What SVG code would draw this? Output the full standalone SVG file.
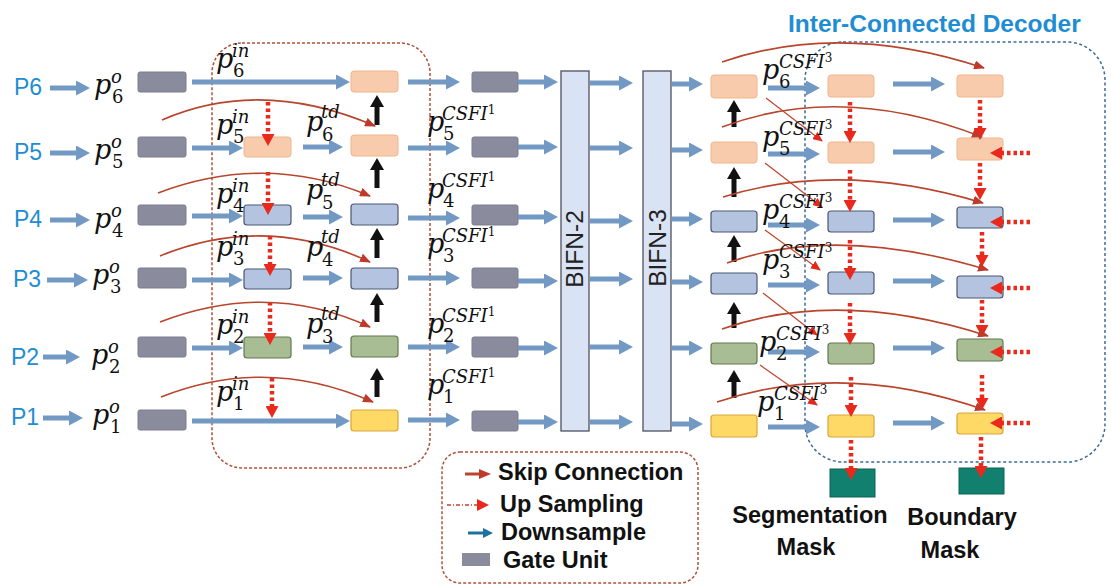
<svg xmlns="http://www.w3.org/2000/svg" width="1111" height="586" viewBox="0 0 1111 586">
  <defs>
    <style>
      .gate{fill:#8A8C9E;stroke:#7B7D8F;stroke-width:1}
      .or{fill:#F8CBAD;stroke:#F0B68C;stroke-width:1}
      .bl{fill:#B4C4E0;stroke:#4B5872;stroke-width:1.2}
      .gr{fill:#A9BD94;stroke:#62794E;stroke-width:1.2}
      .ye{fill:#FFD966;stroke:#D9A63A;stroke-width:1.2}
      .mask{fill:#11806F;stroke:#0C6457;stroke-width:1}
      .bar{fill:#DAE3F3;stroke:#4D5260;stroke-width:1.3}
      .ba{stroke:#7199C4;stroke-width:5;fill:none;marker-end:url(#hb)}
      .up{stroke:#111;stroke-width:5;fill:none;marker-end:url(#hk)}
      .dn{stroke:#E8291C;stroke-width:4.5;stroke-dasharray:3.5 3;fill:none;marker-end:url(#hr)}
      .sk{stroke:#B8452C;stroke-width:1.6;fill:none;marker-end:url(#hs)}
      .dg{stroke:#C0452C;stroke-width:1.2;fill:none;marker-end:url(#hd)}
      .frame{fill:none;stroke:#B0503A;stroke-width:1.5;stroke-dasharray:3 2}
      .frameB{fill:none;stroke:#3D6A9A;stroke-width:1.5;stroke-dasharray:3 2.5}
      .lvl{font-family:"Liberation Sans",Arial,sans-serif;font-size:23px;fill:#1F8DD3}
      .m{font-family:"DejaVu Serif",serif;font-style:italic;font-size:27px;fill:#111}
      .sp{font-size:18px}
      .sb{font-size:18px;font-style:normal}
      .s2{font-size:12px;font-style:normal}
      .lg{font-family:"Liberation Sans",Arial,sans-serif;font-weight:bold;font-size:23.5px;fill:#111}
      .bif{font-family:"Liberation Sans",Arial,sans-serif;font-size:24.5px;fill:#222}
    </style>
    <marker id="hb" markerUnits="userSpaceOnUse" viewBox="0 0 14 15" markerWidth="14" markerHeight="15" refX="2" refY="7.5" orient="auto">
      <path d="M0,0 L14,7.5 L0,15 z" fill="#7199C4"/>
    </marker>
    <marker id="hk" markerUnits="userSpaceOnUse" viewBox="0 0 12 14" markerWidth="12" markerHeight="14" refX="2" refY="7" orient="auto">
      <path d="M0,0 L12,7 L0,14 z" fill="#111"/>
    </marker>
    <marker id="hr" markerUnits="userSpaceOnUse" viewBox="0 0 12 13" markerWidth="12" markerHeight="13" refX="1" refY="6.5" orient="auto">
      <path d="M0,0 L12,6.5 L0,13 z" fill="#E8291C"/>
    </marker>
    <marker id="hs" markerUnits="userSpaceOnUse" viewBox="0 0 11 9" markerWidth="11" markerHeight="9" refX="10" refY="4.5" orient="auto">
      <path d="M0,0 L11,4.5 L0,9 z" fill="#C0392B"/>
    </marker>
    <marker id="hd" markerUnits="userSpaceOnUse" viewBox="0 0 10 9" markerWidth="10" markerHeight="9" refX="9" refY="4.5" orient="auto">
      <path d="M0,0 L10,4.5 L0,9 z" fill="#E02A1C"/>
    </marker>
    <marker id="hlb" markerUnits="userSpaceOnUse" viewBox="0 0 10 10" markerWidth="10" markerHeight="10" refX="1" refY="5" orient="auto">
      <path d="M0,0 L10,5 L0,10 z" fill="#1F6F9F"/>
    </marker>
  </defs>

  <rect width="1111" height="586" fill="#fff"/>

  <!-- encoder frame and decoder frame -->
  <rect class="frame" x="212" y="43" width="218" height="425" rx="30"/>
  <rect class="frameB" x="805" y="42" width="300" height="420" rx="38"/>
  <text x="788" y="32" font-family="Liberation Sans, Arial, sans-serif" font-weight="bold" font-size="24.5" fill="#1F8DD3">Inter-Connected Decoder</text>

  <!-- pyramid level inputs -->
  <g id="levels">
    <text class="lvl" x="14" y="95">P6</text>
    <text class="lvl" x="14" y="160">P5</text>
    <text class="lvl" x="14" y="227">P4</text>
    <text class="lvl" x="13" y="287">P3</text>
    <text class="lvl" x="11" y="365">P2</text>
    <text class="lvl" x="11" y="425">P1</text>
  </g>

  <!-- input gate units -->
  <g id="gates-in">
    <rect class="gate" x="138" y="72" width="48" height="20" rx="2"/>
    <rect class="gate" x="138" y="137" width="48" height="20" rx="2"/>
    <rect class="gate" x="138" y="205" width="48" height="20" rx="2"/>
    <rect class="gate" x="138" y="268" width="48" height="20" rx="2"/>
    <rect class="gate" x="138" y="337" width="48" height="20" rx="2"/>
    <rect class="gate" x="138" y="410" width="48" height="20" rx="2"/>
  </g>

  <!-- top-down path nodes -->
  <g id="td-nodes">
    <rect class="or" x="244" y="137" width="47" height="20" rx="3"/>
    <rect class="bl" x="244" y="205" width="47" height="20" rx="3"/>
    <rect class="bl" x="244" y="269" width="47" height="20" rx="3"/>
    <rect class="gr" x="244" y="337" width="47" height="21" rx="3"/>
  </g>

  <!-- bottom-up path nodes -->
  <g id="bu-nodes">
    <rect class="or" x="351" y="71" width="47" height="21" rx="3"/>
    <rect class="or" x="351" y="135" width="47" height="21" rx="3"/>
    <rect class="bl" x="351" y="204" width="47" height="21" rx="3"/>
    <rect class="bl" x="351" y="268" width="47" height="21" rx="3"/>
    <rect class="gr" x="351" y="336" width="47" height="21" rx="3"/>
    <rect class="ye" x="351" y="410" width="47" height="21" rx="3"/>
  </g>

  <!-- second gate units -->
  <g id="gates-mid">
    <rect class="gate" x="472" y="72" width="46" height="20" rx="2"/>
    <rect class="gate" x="472" y="137" width="46" height="20" rx="2"/>
    <rect class="gate" x="472" y="205" width="46" height="20" rx="2"/>
    <rect class="gate" x="472" y="268" width="46" height="20" rx="2"/>
    <rect class="gate" x="472" y="337" width="46" height="20" rx="2"/>
    <rect class="gate" x="472" y="411" width="46" height="20" rx="2"/>
  </g>

  <!-- BiFPN stages -->
  <g id="bifn2">
    <rect class="bar" x="561" y="71" width="28" height="360"/>
    <text class="bif" transform="translate(583,249) rotate(-90)" text-anchor="middle">BIFN-2</text>
  </g>
  <g id="bifn3">
    <rect class="bar" x="643" y="71" width="28" height="360"/>
    <text class="bif" transform="translate(666,248) rotate(-90)" text-anchor="middle">BIFN-3</text>
  </g>

  <!-- decoder column A -->
  <g id="dec-a">
    <rect class="or" x="711" y="75" width="46" height="23" rx="3"/>
    <rect class="or" x="711" y="142" width="46" height="21" rx="3"/>
    <rect class="bl" x="711" y="211" width="46" height="21" rx="3"/>
    <rect class="bl" x="711" y="273" width="46" height="21" rx="3"/>
    <rect class="gr" x="711" y="343" width="46" height="21" rx="3"/>
    <rect class="ye" x="711" y="415" width="46" height="22" rx="3"/>
  </g>
  <!-- decoder column B (segmentation branch) -->
  <g id="dec-b">
    <rect class="or" x="828" y="75" width="46" height="22" rx="3"/>
    <rect class="or" x="828" y="142" width="46" height="21" rx="3"/>
    <rect class="bl" x="828" y="211" width="46" height="21" rx="3"/>
    <rect class="bl" x="828" y="272" width="46" height="22" rx="3"/>
    <rect class="gr" x="828" y="343" width="46" height="21" rx="3"/>
    <rect class="ye" x="828" y="415" width="46" height="22" rx="3"/>
  </g>
  <!-- decoder column C (boundary branch) -->
  <g id="dec-c">
    <rect class="or" x="957" y="75" width="46" height="22" rx="3"/>
    <rect class="or" x="957" y="138" width="46" height="22" rx="3"/>
    <rect class="bl" x="957" y="207" width="46" height="21" rx="3"/>
    <rect class="bl" x="957" y="276" width="46" height="22" rx="3"/>
    <rect class="gr" x="957" y="339" width="46" height="22" rx="3"/>
    <rect class="ye" x="957" y="413" width="46" height="21" rx="3"/>
  </g>

  <!-- output masks -->
  <g id="seg-mask">
    <rect class="mask" x="830" y="469" width="45" height="28"/>
    <text class="lg" font-size="24" x="810" y="523" text-anchor="middle">Segmentation</text>
    <text class="lg" font-size="24" x="806" y="555" text-anchor="middle">Mask</text>
  </g>
  <g id="bnd-mask">
    <rect class="mask" x="959" y="468" width="45" height="26"/>
    <text class="lg" font-size="24" x="962" y="525" text-anchor="middle">Boundary</text>
    <text class="lg" font-size="24" x="950" y="558" text-anchor="middle">Mask</text>
  </g>

  <!-- connectors -->
  <g id="connectors">
    <!-- inputs -->
    <line class="ba" x1="50" y1="88" x2="78" y2="88"/>
    <line class="ba" x1="50" y1="153" x2="78" y2="153"/>
    <line class="ba" x1="50" y1="220" x2="78" y2="220"/>
    <line class="ba" x1="47" y1="280" x2="76" y2="280"/>
    <line class="ba" x1="43" y1="357" x2="68" y2="357"/>
    <line class="ba" x1="43" y1="418" x2="71" y2="418"/>
    <!-- gate to encoder -->
    <line class="ba" x1="192" y1="82" x2="338" y2="82"/>
    <line class="ba" x1="192" y1="148" x2="231" y2="148"/>
    <line class="ba" x1="192" y1="216" x2="231" y2="216"/>
    <line class="ba" x1="192" y1="280" x2="231" y2="280"/>
    <line class="ba" x1="192" y1="348" x2="231" y2="348"/>
    <line class="ba" x1="192" y1="421" x2="338" y2="421"/>
    <!-- top-down to bottom-up -->
    <line class="ba" x1="303" y1="147" x2="331" y2="147"/>
    <line class="ba" x1="303" y1="217" x2="331" y2="217"/>
    <line class="ba" x1="303" y1="278" x2="331" y2="278"/>
    <line class="ba" x1="303" y1="347" x2="331" y2="347"/>
    <!-- to second gates -->
    <line class="ba" x1="408" y1="82" x2="448" y2="82"/>
    <line class="ba" x1="408" y1="148" x2="448" y2="148"/>
    <line class="ba" x1="408" y1="218" x2="448" y2="218"/>
    <line class="ba" x1="408" y1="278" x2="448" y2="278"/>
    <line class="ba" x1="408" y1="347" x2="448" y2="347"/>
    <line class="ba" x1="408" y1="420" x2="448" y2="420"/>
    <!-- gates to BIFN-2 -->
    <line class="ba" x1="518" y1="82" x2="546" y2="82"/>
    <line class="ba" x1="518" y1="147" x2="546" y2="147"/>
    <line class="ba" x1="518" y1="217" x2="546" y2="217"/>
    <line class="ba" x1="518" y1="281" x2="546" y2="281"/>
    <line class="ba" x1="518" y1="348" x2="546" y2="348"/>
    <line class="ba" x1="518" y1="422" x2="546" y2="422"/>
    <!-- BIFN-2 to BIFN-3 -->
    <line class="ba" x1="590" y1="83" x2="621" y2="83"/>
    <line class="ba" x1="590" y1="148" x2="621" y2="148"/>
    <line class="ba" x1="590" y1="221" x2="621" y2="221"/>
    <line class="ba" x1="590" y1="279" x2="621" y2="279"/>
    <line class="ba" x1="590" y1="347" x2="621" y2="347"/>
    <line class="ba" x1="590" y1="422" x2="621" y2="422"/>
    <!-- BIFN-3 to decoder -->
    <line class="ba" x1="672" y1="84" x2="691" y2="84"/>
    <line class="ba" x1="672" y1="150" x2="691" y2="150"/>
    <line class="ba" x1="672" y1="219" x2="691" y2="219"/>
    <line class="ba" x1="672" y1="282" x2="691" y2="282"/>
    <line class="ba" x1="672" y1="348" x2="691" y2="348"/>
    <line class="ba" x1="672" y1="424" x2="691" y2="424"/>
    <!-- decoder A to B -->
    <line class="ba" x1="768" y1="88" x2="808" y2="88"/>
    <line class="ba" x1="768" y1="154" x2="808" y2="154"/>
    <line class="ba" x1="768" y1="225" x2="808" y2="225"/>
    <line class="ba" x1="768" y1="285" x2="808" y2="285"/>
    <line class="ba" x1="768" y1="352" x2="808" y2="352"/>
    <line class="ba" x1="768" y1="427" x2="808" y2="427"/>
    <!-- decoder B to C -->
    <line class="ba" x1="893" y1="84" x2="933" y2="84"/>
    <line class="ba" x1="893" y1="152" x2="933" y2="152"/>
    <line class="ba" x1="893" y1="220" x2="933" y2="220"/>
    <line class="ba" x1="893" y1="281" x2="933" y2="281"/>
    <line class="ba" x1="893" y1="348" x2="933" y2="348"/>
    <line class="ba" x1="893" y1="423" x2="933" y2="423"/>

    <!-- bottom-up fusion (black) -->
    <line class="up" x1="377" y1="125" x2="377" y2="105"/>
    <line class="up" x1="377" y1="188" x2="377" y2="168"/>
    <line class="up" x1="377" y1="258" x2="377" y2="238"/>
    <line class="up" x1="377" y1="322" x2="377" y2="303"/>
    <line class="up" x1="377" y1="397" x2="377" y2="378"/>
    <line class="up" x1="734" y1="127" x2="734" y2="110"/>
    <line class="up" x1="734" y1="197" x2="734" y2="177"/>
    <line class="up" x1="734" y1="262" x2="734" y2="245"/>
    <line class="up" x1="734" y1="328" x2="734" y2="312"/>
    <line class="up" x1="734" y1="398" x2="734" y2="380"/>

    <!-- up sampling (red dotted) -->
    <line class="dn" x1="268" y1="102" x2="268" y2="135"/>
    <line class="dn" x1="268" y1="172" x2="268" y2="204"/>
    <line class="dn" x1="270" y1="236" x2="270" y2="265"/>
    <line class="dn" x1="270" y1="302" x2="270" y2="334"/>
    <line class="dn" x1="272" y1="378" x2="272" y2="407"/>
    <line class="dn" x1="850" y1="102" x2="850" y2="132"/>
    <line class="dn" x1="850" y1="170" x2="850" y2="201"/>
    <line class="dn" x1="850" y1="240" x2="850" y2="269"/>
    <line class="dn" x1="850" y1="303" x2="850" y2="334"/>
    <line class="dn" x1="851" y1="377" x2="851" y2="406"/>
    <line class="dn" x1="851" y1="440" x2="851" y2="469"/>
    <line class="dn" x1="980" y1="100" x2="980" y2="129"/>
    <line class="dn" x1="980" y1="163" x2="980" y2="189"/>
    <line class="dn" x1="982" y1="232" x2="982" y2="256"/>
    <line class="dn" x1="982" y1="300" x2="982" y2="326"/>
    <line class="dn" x1="982" y1="375" x2="982" y2="399"/>
    <line class="dn" x1="981" y1="437" x2="981" y2="467"/>
    <line class="dn" x1="1030" y1="153" x2="1001" y2="153"/>
    <line class="dn" x1="1030" y1="222" x2="1001" y2="222"/>
    <line class="dn" x1="1030" y1="288" x2="1001" y2="288"/>
    <line class="dn" x1="1030" y1="352" x2="1001" y2="352"/>
    <line class="dn" x1="1030" y1="423" x2="1001" y2="423"/>

    <!-- cross-scale links in decoder -->
    <line class="dg" x1="766" y1="98" x2="822" y2="141"/>
    <line class="dg" x1="765" y1="163" x2="822" y2="207"/>
    <line class="dg" x1="765" y1="230" x2="820" y2="270"/>
    <line class="dg" x1="763" y1="293" x2="817" y2="335"/>
    <line class="dg" x1="760" y1="365" x2="817" y2="405"/>

    <!-- skip connections -->
    <path class="sk" d="M162,120 Q261,77 375,126"/>
    <path class="sk" d="M158,193 Q266,152 370,196"/>
    <path class="sk" d="M160,256 Q265,213 370,262"/>
    <path class="sk" d="M160,322 Q269,280 370,327"/>
    <path class="sk" d="M161,397 Q267,355 373,402"/>
    <path class="sk" d="M722,62 Q841,21 984,68"/>
    <path class="sk" d="M722,127 Q842,82 982,137"/>
    <path class="sk" d="M723,197 Q841,160 983,203"/>
    <path class="sk" d="M727,263 Q836,224 988,270"/>
    <path class="sk" d="M722,329 Q839,288 988,336"/>
    <path class="sk" d="M717,402 Q843,360 985,410"/>
  </g>

  <!-- feature labels -->
  <g id="labels">
    <text class="m"><tspan x="94" y="94">p</tspan><tspan class="sp" x="111" y="83">o</tspan><tspan class="sb" x="112" y="103">6</tspan></text>
    <text class="m"><tspan x="94" y="159">p</tspan><tspan class="sp" x="111" y="148">o</tspan><tspan class="sb" x="112" y="168">5</tspan></text>
    <text class="m"><tspan x="94" y="228">p</tspan><tspan class="sp" x="111" y="217">o</tspan><tspan class="sb" x="112" y="237">4</tspan></text>
    <text class="m"><tspan x="92" y="284">p</tspan><tspan class="sp" x="109" y="273">o</tspan><tspan class="sb" x="110" y="293">3</tspan></text>
    <text class="m"><tspan x="91" y="364">p</tspan><tspan class="sp" x="108" y="353">o</tspan><tspan class="sb" x="109" y="373">2</tspan></text>
    <text class="m"><tspan x="92" y="424">p</tspan><tspan class="sp" x="109" y="413">o</tspan><tspan class="sb" x="110" y="433">1</tspan></text>

    <text class="m"><tspan x="216" y="68">p</tspan><tspan class="sp" x="232" y="57">in</tspan><tspan class="sb" x="233" y="77">6</tspan></text>
    <text class="m"><tspan x="216" y="134">p</tspan><tspan class="sp" x="232" y="123">in</tspan><tspan class="sb" x="233" y="143">5</tspan></text>
    <text class="m"><tspan x="216" y="203">p</tspan><tspan class="sp" x="232" y="192">in</tspan><tspan class="sb" x="233" y="212">4</tspan></text>
    <text class="m"><tspan x="216" y="256">p</tspan><tspan class="sp" x="232" y="245">in</tspan><tspan class="sb" x="233" y="265">3</tspan></text>
    <text class="m"><tspan x="216" y="334">p</tspan><tspan class="sp" x="232" y="323">in</tspan><tspan class="sb" x="233" y="343">2</tspan></text>
    <text class="m"><tspan x="216" y="401">p</tspan><tspan class="sp" x="232" y="390">in</tspan><tspan class="sb" x="233" y="410">1</tspan></text>

    <text class="m"><tspan x="306" y="131">p</tspan><tspan class="sp" x="321" y="118">td</tspan><tspan class="sb" x="322" y="141">6</tspan></text>
    <text class="m"><tspan x="306" y="199">p</tspan><tspan class="sp" x="321" y="186">td</tspan><tspan class="sb" x="322" y="209">5</tspan></text>
    <text class="m"><tspan x="306" y="256">p</tspan><tspan class="sp" x="321" y="243">td</tspan><tspan class="sb" x="322" y="266">4</tspan></text>
    <text class="m"><tspan x="306" y="333">p</tspan><tspan class="sp" x="321" y="320">td</tspan><tspan class="sb" x="322" y="343">3</tspan></text>

    <text class="m"><tspan x="427" y="131">p</tspan><tspan class="sp" x="442" y="120">CSFI</tspan><tspan class="s2" dy="-6">1</tspan><tspan class="sb" x="443" y="140">5</tspan></text>
    <text class="m"><tspan x="427" y="198">p</tspan><tspan class="sp" x="442" y="187">CSFI</tspan><tspan class="s2" dy="-6">1</tspan><tspan class="sb" x="443" y="207">4</tspan></text>
    <text class="m"><tspan x="427" y="253">p</tspan><tspan class="sp" x="442" y="242">CSFI</tspan><tspan class="s2" dy="-6">1</tspan><tspan class="sb" x="443" y="262">3</tspan></text>
    <text class="m"><tspan x="427" y="333">p</tspan><tspan class="sp" x="442" y="322">CSFI</tspan><tspan class="s2" dy="-6">1</tspan><tspan class="sb" x="443" y="342">2</tspan></text>
    <text class="m"><tspan x="427" y="394">p</tspan><tspan class="sp" x="442" y="383">CSFI</tspan><tspan class="s2" dy="-6">1</tspan><tspan class="sb" x="443" y="403">1</tspan></text>

    <text class="m"><tspan x="762" y="79">p</tspan><tspan class="sp" x="779" y="68">CSFI</tspan><tspan class="s2" dy="-6">3</tspan><tspan class="sb" x="779" y="88">6</tspan></text>
    <text class="m"><tspan x="762" y="146">p</tspan><tspan class="sp" x="779" y="135">CSFI</tspan><tspan class="s2" dy="-6">3</tspan><tspan class="sb" x="779" y="155">5</tspan></text>
    <text class="m"><tspan x="762" y="219">p</tspan><tspan class="sp" x="779" y="208">CSFI</tspan><tspan class="s2" dy="-6">3</tspan><tspan class="sb" x="779" y="228">4</tspan></text>
    <text class="m"><tspan x="762" y="269">p</tspan><tspan class="sp" x="779" y="258">CSFI</tspan><tspan class="s2" dy="-6">3</tspan><tspan class="sb" x="779" y="278">3</tspan></text>
    <text class="m"><tspan x="759" y="351">p</tspan><tspan class="sp" x="776" y="340">CSFI</tspan><tspan class="s2" dy="-6">3</tspan><tspan class="sb" x="776" y="360">2</tspan></text>
    <text class="m"><tspan x="757" y="411">p</tspan><tspan class="sp" x="774" y="400">CSFI</tspan><tspan class="s2" dy="-6">3</tspan><tspan class="sb" x="774" y="420">1</tspan></text>
  </g>

  <!-- legend -->
  <g id="legend">
    <rect x="442" y="452" width="256" height="131" rx="18" fill="none" stroke="#B0503A" stroke-width="1.5" stroke-dasharray="3 2"/>
    <line x1="465" y1="474" x2="481" y2="474" stroke="#B8452C" stroke-width="3"/>
    <path d="M479,469 L491,474 L479,479 z" fill="#C0392B"/>
    <text class="lg" x="498" y="480">Skip Connection</text>
    <line x1="447" y1="505" x2="479" y2="505" stroke="#C0452C" stroke-width="1.5" stroke-dasharray="4 2 1 2"/>
    <path d="M477,499 L489,505 L477,511 z" fill="#E8291C"/>
    <text class="lg" x="500" y="512">Up Sampling</text>
    <line x1="468" y1="533" x2="484" y2="533" stroke="#1F6F9F" stroke-width="3" marker-end="url(#hlb)"/>
    <text class="lg" x="501" y="540">Downsample</text>
    <rect x="462" y="553" width="28" height="13" fill="#8A8C9E"/>
    <text class="lg" x="503" y="568">Gate Unit</text>
  </g>
</svg>
